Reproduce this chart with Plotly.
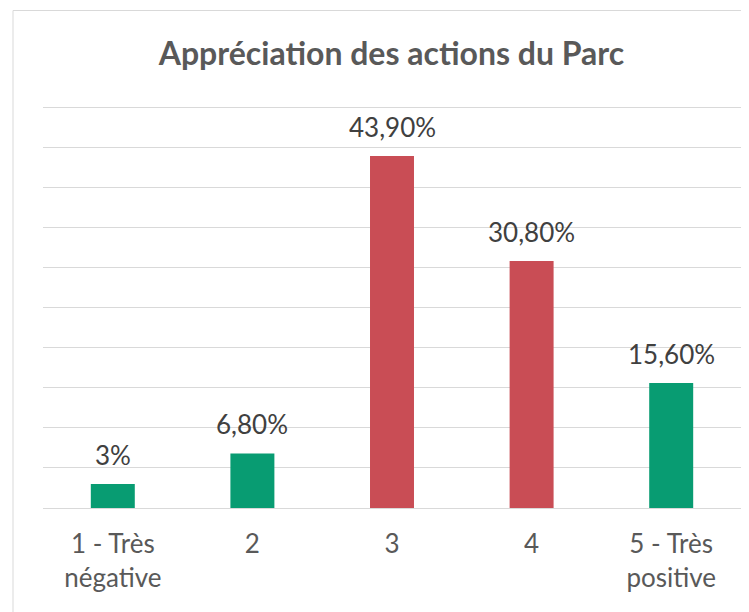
import plotly.graph_objects as go

# Data
categories = ["1 - Très<br>négative", "2", "3", "4", "5 - Très<br>positive"]
values = [3.0, 6.8, 43.9, 30.8, 15.6]
value_labels = ["3%", "6,80%", "43,90%", "30,80%", "15,60%"]
bar_colors = ["#089c72", "#089c72", "#c94d55", "#c94d55", "#089c72"]
title_text = "Appréciation des actions du Parc"

FONT = "Lato, 'Open Sans', sans-serif"

# The page body has an 8px margin; figure coordinates are page - 8.
W, H = 741, 604
PL, PR, PT, PB = 35, 733, 95, 500  # plot area in figure coords
YMAX = 50.5

fig = go.Figure(
    go.Bar(
        x=categories,
        y=values,
        marker=dict(color=bar_colors, line=dict(width=0)),
        cliponaxis=False,
        hoverinfo="skip",
    )
)

# Category positions on the axis are the indices of the categories
annotations = [
    dict(
        x=i,
        y=v,
        xref="x",
        yref="y",
        text=t,
        showarrow=False,
        xanchor="center",
        yanchor="bottom",
        yshift=11,
        font=dict(family=FONT, size=26, color="#404040"),
    )
    for i, (v, t) in enumerate(zip(values, value_labels))
]

fig.update_layout(
    width=W,
    height=H,
    margin=dict(l=PL, r=W - PR, t=PT, b=H - PB, autoexpand=False),
    paper_bgcolor="white",
    plot_bgcolor="white",
    bargap=0.685,
    showlegend=False,
    annotations=annotations,
    title=dict(
        text=f"<b>{title_text}</b>",
        font=dict(family=FONT, size=32, color="#595959"),
        x=383.5 / W,
        xanchor="center",
        xref="container",
        y=1 - 46 / H,
        yanchor="middle",
        yref="container",
    ),
    xaxis=dict(
        type="category",
        showgrid=False,
        showline=False,
        ticks="",
        ticklabelstandoff=18,
        tickfont=dict(family=FONT, size=26, color="#595959"),
        fixedrange=True,
    ),
    yaxis=dict(
        range=[0, YMAX],
        tick0=0,
        dtick=5,
        showgrid=True,
        gridcolor="#d9d9d9",
        gridwidth=1,
        zeroline=True,
        zerolinecolor="#d9d9d9",
        zerolinewidth=1,
        showticklabels=False,
        ticks="",
        showline=False,
        fixedrange=True,
    ),
    shapes=[
        dict(
            type="rect",
            xref="paper",
            yref="paper",
            x0=(5 - PL) / (PR - PL),
            x1=(760 - PL) / (PR - PL),
            y0=(PB - 630) / (PB - PT),
            y1=(PB - 2.5) / (PB - PT),
            line=dict(color="#d9d9d9", width=1),
            fillcolor="rgba(0,0,0,0)",
            layer="below",
        )
    ],
)

fig.write_html("out.html")
